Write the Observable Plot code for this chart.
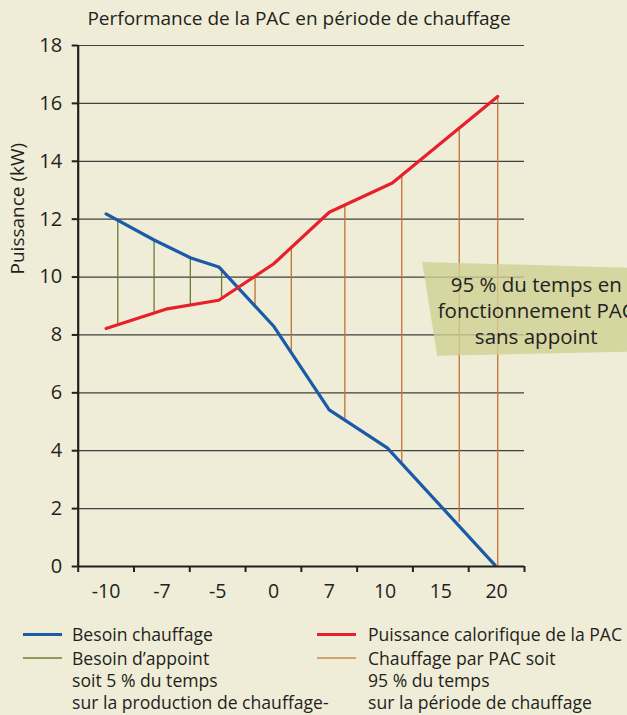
<!DOCTYPE html>
<html><head><meta charset="utf-8">
<script src="https://cdn.jsdelivr.net/npm/d3@7"></script>
<script src="https://cdn.jsdelivr.net/npm/@observablehq/plot@0.6"></script>
<style>
html,body{margin:0;padding:0}
body{background:#efedd8;font-family:"Open Sans",sans-serif;color:#231f20;width:627px;height:715px;overflow:hidden;position:relative}
#title{position:absolute;top:9px;left:0;width:598px;text-align:center;font-size:19px;line-height:1;white-space:nowrap}
#chart{position:absolute;top:32px;left:0}
.lg{position:absolute;height:3px}
.lt{position:absolute;font-size:17.6px;line-height:22px;white-space:nowrap}
</style></head>
<body>
<div id="title">Performance de la PAC en période de chauffage</div>
<div id="chart"></div>
<div id="legend"></div>
<script>
// ---- data ----
const xLabels = ["-10", "-7", "-5", "0", "7", "10", "15", "20"];
const yTicks = [0, 2, 4, 6, 8, 10, 12, 14, 16, 18];
// Besoin chauffage (blue): positions in category-index units
const besoinX = [0, 0.86, 1.52, 2.02, 3, 4, 5.04, 6.97];
const besoinY = [12.18, 11.28, 10.66, 10.35, 8.31, 5.41, 4.1, 0.05];
// Puissance calorifique de la PAC (red)
const pacX = [0, 1.07, 2.02, 3, 4, 5.13, 7.02];
const pacY = [8.22, 8.89, 9.2, 10.45, 12.24, 13.25, 16.24];
// Besoin d'appoint (green verticals)
const appointX = [0.21, 0.86, 1.51, 2.07];
const appointTop = [11.99, 11.28, 10.67, 10.3];
const appointBottom = [8.34, 8.79, 9.0, 9.3];
// Chauffage par PAC (orange verticals)
const pacOnlyX = [2.67, 3.32, 4.28, 5.30, 6.33, 7.02];
const pacOnlyTop = [10.0, 10.97, 12.48, 13.48, 15.09, 16.24];
const pacOnlyBottom = [9.03, 7.38, 5.1, 3.54, 1.53, 0];
// annotation
const noteText = ["95 % du temps en", "fonctionnement PAC", "sans appoint"];
const noteBoxX = [5.666, 9.8, 9.8, 5.935];
const noteBoxY = [10.52, 10.30, 7.44, 7.28];
const noteX = 7.71, noteY = 8.87;
const yLabel = "Puissance (kW)";
const legendLeft = [
  {color: "#1a5aa8", w: 3, lines: ["Besoin chauffage"]},
  {color: "#8c9b5c", w: 2, lines: ["Besoin d’appoint", "soit 5 % du temps", "sur la production de chauffage-"]}
];
const legendRight = [
  {color: "#e8202a", w: 3, lines: ["Puissance calorifique de la PAC"]},
  {color: "#d6a36e", w: 2, lines: ["Chauffage par PAC soit", "95 % du temps", "sur la période de chauffage"]}
];

// ---- tables ----
const besoin = besoinX.map((x, i) => ({x, y: besoinY[i]}));
const pac = pacX.map((x, i) => ({x, y: pacY[i]}));
const appoint = appointX.map((x, i) => ({x, y1: appointBottom[i], y2: appointTop[i]}));
const pacOnly = pacOnlyX.map((x, i) => ({x, y1: pacOnlyBottom[i], y2: pacOnlyTop[i]}));
const box = noteBoxX.map((x, i) => ({x, y: noteBoxY[i]})).concat([{x: noteBoxX[0], y: noteBoxY[0]}]);
const edges = d3.range(xLabels.length + 1).map(i => i - 0.5);
const ink = "#231f20";

const chart = Plot.plot({
  width: 627,
  height: 579,
  marginTop: 13,
  marginBottom: 45,
  marginLeft: 77.7,
  marginRight: 103,
  style: {background: "transparent", fontFamily: "'Open Sans', sans-serif", color: ink, overflow: "visible"},
  x: {type: "linear", domain: [-0.5, xLabels.length - 0.5]},
  y: {domain: [0, 18]},
  marks: [
    Plot.gridY(yTicks.filter(d => d > 0), {stroke: "#2e2e2e", strokeOpacity: 0.9, strokeWidth: 1.2}),
    Plot.ruleX(appoint, {x: "x", y1: "y1", y2: "y2", stroke: "#6b7a35", strokeWidth: 1.3}),
    Plot.ruleX(pacOnly, {x: "x", y1: "y1", y2: "y2", stroke: "#c0712f", strokeWidth: 1.3}),
    Plot.line(box, {x: "x", y: "y", fill: "#cfd093", fillOpacity: 0.8, stroke: "none"}),
    Plot.text([noteText.join("\n")], {x: () => noteX, y: () => noteY, fontSize: 20.5, lineHeight: 1.27, fill: "#222", textAnchor: "middle"}),
    Plot.line(besoin, {x: "x", y: "y", stroke: "#1a5aa8", strokeWidth: 3.2}),
    Plot.line(pac, {x: "x", y: "y", stroke: "#e8202a", strokeWidth: 3.2}),
    Plot.ruleY([0], {stroke: ink, strokeWidth: 2.2}),
    Plot.ruleX([-0.5], {y1: 0, y2: 18, stroke: ink, strokeWidth: 2.2}),
    Plot.axisY({ticks: yTicks, tickSize: 6, tickPadding: 10, fontSize: 20, strokeWidth: 2, label: null, stroke: ink, fill: ink}),
    Plot.axisX({ticks: edges, tickSize: 6, tickFormat: () => "", strokeWidth: 2, label: null, stroke: ink}),
    Plot.axisX({ticks: d3.range(xLabels.length), tickSize: 0, tickPadding: 18, tickFormat: i => xLabels[i], fontSize: 19.5, label: null, fill: ink}),
    Plot.text([yLabel], {frameAnchor: "left", rotate: -90, dx: -60, dy: -31.5, fontSize: 19, fill: ink})
  ]
});
document.getElementById("chart").appendChild(chart);

// ---- legend ----
const lg = document.getElementById("legend");
function col(entries, lineLeft, lineW, textLeft, rows) {
  entries.forEach((e, k) => {
    const cy = rows[k];
    const l = document.createElement("div");
    l.className = "lg";
    l.style.cssText = `left:${lineLeft}px;width:${lineW}px;top:${cy - e.w / 2}px;height:${e.w}px;background:${e.color}`;
    lg.appendChild(l);
    const t = document.createElement("div");
    t.className = "lt";
    t.style.left = textLeft + "px";
    t.style.top = (cy - 11) + "px";
    t.innerHTML = e.lines.join("<br>");
    lg.appendChild(t);
  });
}
col(legendLeft, 23, 39, 72, [634, 658]);
col(legendRight, 317, 39, 368, [634, 658]);
</script>
</body></html>
